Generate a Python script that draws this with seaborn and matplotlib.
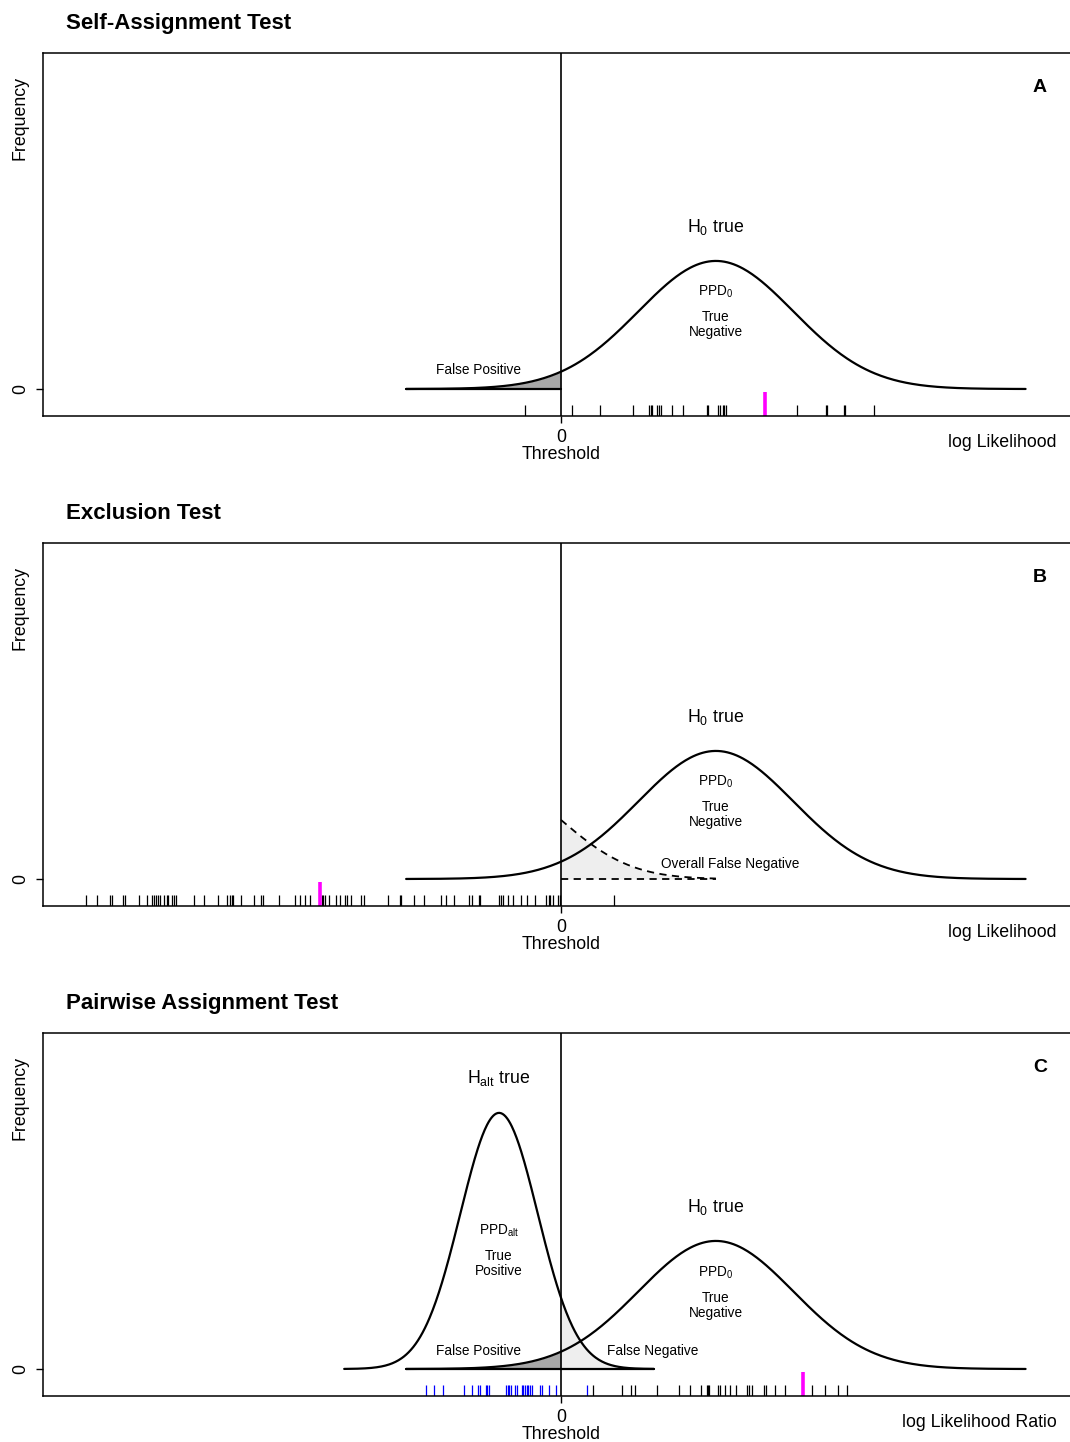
import numpy as np
import pandas as pd
import matplotlib
matplotlib.use("Agg")
import matplotlib.pyplot as plt
import seaborn as sns

# ---------------- data ----------------
titles = ["Self-Assignment Test", "Exclusion Test", "Pairwise Assignment Test"]
panel_letters = ["A", "B", "C"]
xlabels = ["log Likelihood", "log Likelihood", "log Likelihood Ratio"]

# theoretical distributions (mean, sd, drawn range)
h0_mean, h0_sd, h0_range = 2.0, 1.0, (-2.0, 6.0)
halt_mean, halt_sd, halt_range = -0.8, 0.5, (-2.8, 1.2)
# exclusion-test overall false negative tail (dashed)
excl_mean, excl_sd, excl_range, excl_peak = -0.88, 0.89, (0.0, 2.0), 0.184

# rug values (observed statistics)
rug_a = [-0.47, 0.14, 0.50, 0.93, 1.14, 1.16, 1.18, 1.24, 1.27, 1.29, 1.44, 1.57,
         1.88, 1.90, 2.03, 2.05, 2.09, 2.11, 2.13, 3.05, 3.42, 3.44, 3.65, 3.67, 4.04]
rug_a_focal = [2.64]

rug_b = [-6.13, -5.99, -5.82, -5.80, -5.66, -5.63, -5.45, -5.35, -5.28, -5.25, -5.23,
         -5.21, -5.18, -5.13, -5.09, -5.07, -5.03, -5.00, -4.97, -4.74, -4.61, -4.43,
         -4.32, -4.27, -4.25, -4.23, -4.13, -3.96, -3.87, -3.85, -3.64, -3.43, -3.37,
         -3.31, -3.24, -3.09, -3.07, -3.05, -2.99, -2.91, -2.86, -2.79, -2.77, -2.71,
         -2.58, -2.55, -2.23, -2.08, -2.06, -1.90, -1.77, -1.55, -1.49, -1.38, -1.19,
         -1.15, -1.06, -1.04, -0.80, -0.78, -0.75, -0.69, -0.62, -0.52, -0.44, -0.34,
         -0.19, -0.16, -0.14, -0.10, -0.04, -0.01, 0.69]
rug_b_focal = [-3.11]

rug_c_alt = [-1.74, -1.64, -1.52, -1.25, -1.15, -1.07, -1.05, -0.97, -0.95, -0.93,
             -0.71, -0.69, -0.67, -0.65, -0.59, -0.57, -0.51, -0.49, -0.47, -0.44,
             -0.42, -0.40, -0.38, -0.27, -0.24, -0.16, -0.06, 0.34]
rug_c_null = [0.41, 0.79, 0.91, 0.95, 1.24, 1.52, 1.66, 1.81, 1.88, 1.90, 1.91, 2.03,
              2.05, 2.12, 2.18, 2.26, 2.40, 2.43, 2.47, 2.62, 2.65, 2.77, 2.89, 3.24,
              3.41, 3.58, 3.69]
rug_c_focal = [3.13]

# ---------------- style ----------------
sns.set_style("white")
plt.rcParams["font.family"] = ["Liberation Sans", "DejaVu Sans"]
plt.rcParams["mathtext.fontset"] = "custom"
plt.rcParams["mathtext.rm"] = "Liberation Sans"
plt.rcParams["mathtext.it"] = "Liberation Sans:italic"
plt.rcParams["mathtext.bf"] = "Liberation Sans:bold"
plt.rcParams["mathtext.default"] = "regular"
for key in ["text.color", "axes.labelcolor", "xtick.color", "ytick.color",
            "xtick.labelcolor", "ytick.labelcolor"]:
    plt.rcParams[key] = "black"

W, H = 1070, 1442
fig = plt.figure(figsize=(W / 100, H / 100), dpi=100)

XL = (-6.69, 6.69)
YL = (-0.0841, 1.0467)
DARK = "#a8a8a8"
LIGHT = "#e8e8e8"
BIG = 12.8
SMALL = 9.8


def dnorm(x, m, s):
    return np.exp(-0.5 * ((x - m) / s) ** 2) / (s * np.sqrt(2 * np.pi))


def curve(rng, m, s, scale=1.0, n=400):
    x = np.linspace(rng[0], rng[1], n)
    return x, scale * dnorm(x, m, s)


axes = []
for k in range(3):
    top_px = 53 + 490 * k
    bot_px = 416 + 490 * k
    left_px, right_px = 43, 1079
    ax = fig.add_axes([left_px / W, 1 - bot_px / H, (right_px - left_px) / W,
                       (bot_px - top_px) / H])
    axes.append(ax)
    for sp in ax.spines.values():
        sp.set_color("black")
        sp.set_linewidth(1.1)
    fig.text(66 / W, 1 - (23.5 + 490 * k) / H, titles[k], fontsize=16,
             fontweight="bold", ha="left", va="center", color="black")
    ax.text(-0.0225, (bot_px - (118 + 490 * k)) / 363, "Frequency", rotation=90,
            transform=ax.transAxes, ha="center", va="center", fontsize=BIG)
    ax.text(0.9624, 0.906, panel_letters[k], transform=ax.transAxes, ha="center",
            va="center", fontsize=BIG + 1.2, fontweight="bold")
    ax.text((1057 - 43) / 1036, -0.072, xlabels[k], transform=ax.transAxes,
            ha="right", va="center", fontsize=BIG)
    ax.text(0.0, -0.107, "Threshold", transform=ax.get_xaxis_transform(),
            ha="center", va="center", fontsize=BIG)

    # H0 curve
    x0, y0 = curve(h0_range, h0_mean, h0_sd)
    sns.lineplot(x=x0, y=y0, ax=ax, color="black", lw=1.6, sort=False)

    # threshold line
    ax.axvline(0, color="black", lw=1.2)

    ax.set_xticks([0])
    ax.set_xticklabels(["0"], fontsize=BIG)
    ax.set_yticks([0])
    ax.set_yticklabels(["0"], fontsize=BIG, rotation=90, va="center")
    ax.tick_params(axis="both", direction="out", length=5, width=1.0,
                   color="black", bottom=True, left=True)
    ax.tick_params(axis="x", pad=4.5)
    ax.tick_params(axis="y", pad=5)

# ---- Panel A ----
ax = axes[0]
xf = np.linspace(h0_range[0], 0, 200)
yf = dnorm(xf, h0_mean, h0_sd)
ax.fill_between(xf, 0, yf, color=DARK, lw=0)
ax.plot([h0_range[0], 0], [0, 0], color="black", lw=1.6)
ax.text(2.0, 0.505, "H$_0$ true", ha="center", va="center", fontsize=BIG)
ax.text(2.0, 0.302, "PPD$_0$", ha="center", va="center", fontsize=SMALL)
ax.text(2.0, 0.200, "True\nNegative", ha="center", va="center", fontsize=SMALL,
        linespacing=1.1)
ax.text(-1.07, 0.059, "False Positive", ha="center", va="center", fontsize=SMALL)
sns.rugplot(x=rug_a, ax=ax, height=0.030, color="black", linewidth=0.9,
            expand_margins=False)
sns.rugplot(x=rug_a_focal, ax=ax, height=0.066, color="#ff00ff", linewidth=2.6,
            expand_margins=False)

# ---- Panel B ----
ax = axes[1]
xe = np.linspace(excl_range[0], excl_range[1], 200)
ye = dnorm(xe, excl_mean, excl_sd)
ye = ye * excl_peak / ye[0]
ax.fill_between(xe, 0, ye, color=LIGHT, alpha=0.7, lw=0)
ax.plot(xe, ye, color="black", lw=1.3, ls=(0, (4, 3)))
ax.plot([excl_range[0], excl_range[1]], [0, 0], color="black", lw=1.3,
        ls=(0, (4, 3)))
ax.text(2.0, 0.505, "H$_0$ true", ha="center", va="center", fontsize=BIG)
ax.text(2.0, 0.302, "PPD$_0$", ha="center", va="center", fontsize=SMALL)
ax.text(2.0, 0.200, "True\nNegative", ha="center", va="center", fontsize=SMALL,
        linespacing=1.1)
ax.text(2.18, 0.047, "Overall False Negative", ha="center", va="center",
        fontsize=SMALL)
sns.rugplot(x=rug_b, ax=ax, height=0.030, color="black", linewidth=0.9,
            expand_margins=False)
sns.rugplot(x=rug_b_focal, ax=ax, height=0.066, color="#ff00ff", linewidth=2.6,
            expand_margins=False)

# ---- Panel C ----
ax = axes[2]
xa, ya = curve(halt_range, halt_mean, halt_sd)
sns.lineplot(x=xa, y=ya, ax=ax, color="black", lw=1.6, sort=False)
xf = np.linspace(h0_range[0], 0, 200)
ax.fill_between(xf, 0, dnorm(xf, h0_mean, h0_sd), color=DARK, lw=0)
xn = np.linspace(0, halt_range[1], 200)
ax.fill_between(xn, 0, dnorm(xn, halt_mean, halt_sd), color=LIGHT, alpha=0.7, lw=0)
ax.plot([h0_range[0], halt_range[1]], [0, 0], color="black", lw=1.6)
ax.text(-0.8, 0.907, "H$_{alt}$ true", ha="center", va="center", fontsize=BIG)
ax.text(-0.8, 0.430, "PPD$_{alt}$", ha="center", va="center", fontsize=SMALL)
ax.text(-0.8, 0.328, "True\nPositive", ha="center", va="center", fontsize=SMALL,
        linespacing=1.1)
ax.text(2.0, 0.505, "H$_0$ true", ha="center", va="center", fontsize=BIG)
ax.text(2.0, 0.299, "PPD$_0$", ha="center", va="center", fontsize=SMALL)
ax.text(2.0, 0.197, "True\nNegative", ha="center", va="center", fontsize=SMALL,
        linespacing=1.1)
ax.text(-1.07, 0.056, "False Positive", ha="center", va="center", fontsize=SMALL)
ax.text(1.18, 0.056, "False Negative", ha="center", va="center", fontsize=SMALL)
sns.rugplot(x=rug_c_alt, ax=ax, height=0.030, color="#0000ff", linewidth=0.9,
            expand_margins=False)
sns.rugplot(x=rug_c_null, ax=ax, height=0.030, color="black", linewidth=0.9,
            expand_margins=False)
sns.rugplot(x=rug_c_focal, ax=ax, height=0.066, color="#ff00ff", linewidth=2.6,
            expand_margins=False)

for ax in axes:
    ax.set_xlim(*XL)
    ax.set_ylim(*YL)
    ax.set_xlabel("")
    ax.set_ylabel("")

fig.savefig("out.png", dpi=100)
